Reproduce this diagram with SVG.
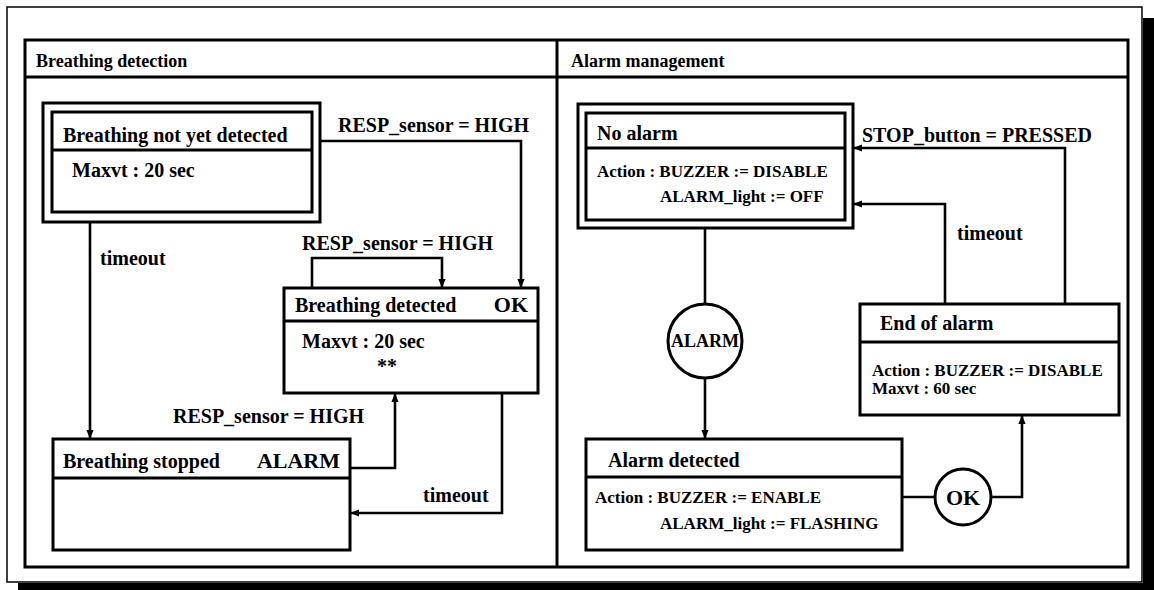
<svg xmlns="http://www.w3.org/2000/svg" width="1154" height="590" viewBox="0 0 1154 590">
<style>
  text { font-family: "Liberation Serif", "Times New Roman", serif; font-weight: bold; fill: #000; }
  .hdr { font-size: 18px; }
  .ttl { font-size: 20px; }
  .big { font-size: 22px; }
  .act { font-size: 17px; }
  .circ { font-size: 18px; }
  .box { fill: #fff; stroke: #000; stroke-width: 3; }
  .ln { fill: none; stroke: #000; stroke-width: 3; }
  .conn { fill: none; stroke: #000; stroke-width: 2.6; }
</style>
<defs>
  <marker id="arr" viewBox="0 0 10 10" refX="10" refY="5" markerWidth="9" markerHeight="9" markerUnits="userSpaceOnUse" orient="auto">
    <path d="M0,1 L10,5 L0,9 z" fill="#000"/>
  </marker>
</defs>
<rect x="0" y="0" width="1154" height="590" fill="#fff"/>

<g id="frame">
  <rect x="1143" y="18" width="11" height="572" fill="#000"/>
  <rect x="18" y="583" width="1136" height="7" fill="#000"/>
  <rect x="7" y="7" width="1135" height="575" fill="#fff" stroke="#000" stroke-width="1.5"/>
  <rect x="25" y="40" width="1103" height="527" class="ln"/>
  <line x1="25" y1="77" x2="1128" y2="77" class="ln"/>
  <line x1="557" y1="40" x2="557" y2="567" class="ln" stroke-width="4"/>
  <text class="hdr" x="36" y="67">Breathing detection</text>
  <text class="hdr" x="571" y="67">Alarm management</text>
</g>

<g id="connectors">
  <path class="conn" d="M320,141 H521 V288" marker-end="url(#arr)"/>
  <path class="conn" d="M312,288 V258 H442 V288" marker-end="url(#arr)"/>
  <path class="conn" d="M90,222 V439" marker-end="url(#arr)"/>
  <path class="conn" d="M350,468 H395 V393" marker-end="url(#arr)"/>
  <path class="conn" d="M502,393 V513 H350" marker-end="url(#arr)"/>
  <path class="conn" d="M705,228 V304"/>
  <path class="conn" d="M705,378 V439" marker-end="url(#arr)"/>
  <path class="conn" d="M902,497 H935"/>
  <path class="conn" d="M991,497 H1022 V415" marker-end="url(#arr)"/>
  <path class="conn" d="M1065,304 V148 H853" marker-end="url(#arr)"/>
  <path class="conn" d="M945,304 V204 H853" marker-end="url(#arr)"/>
  <text class="ttl" x="338" y="132">RESP_sensor = HIGH</text>
  <text class="ttl" x="302" y="250">RESP_sensor = HIGH</text>
  <text class="ttl" x="100" y="265">timeout</text>
  <text class="ttl" x="173" y="423">RESP_sensor = HIGH</text>
  <text class="ttl" x="423" y="502">timeout</text>
  <text class="ttl" x="862" y="142">STOP_button = PRESSED</text>
  <text class="ttl" x="957" y="240">timeout</text>
</g>

<g id="node-not-yet-detected">
  <rect x="43" y="103" width="277" height="119" class="box"/>
  <rect x="52" y="112" width="260" height="100" class="box"/>
  <line x1="52" y1="150" x2="312" y2="150" class="ln"/>
  <text class="ttl" x="63" y="142">Breathing not yet detected</text>
  <text class="ttl" x="72" y="177">Maxvt : 20 sec</text>
</g>

<g id="node-breathing-detected">
  <rect x="284" y="288" width="254" height="105" class="box"/>
  <line x1="284" y1="321" x2="538" y2="321" class="ln"/>
  <text class="ttl" x="295" y="312">Breathing detected</text>
  <text class="big" x="528" y="312" text-anchor="end">OK</text>
  <text class="ttl" x="302" y="348">Maxvt : 20 sec</text>
  <text class="ttl" x="377" y="373">**</text>
</g>

<g id="node-breathing-stopped">
  <rect x="53" y="439" width="297" height="111" class="box"/>
  <line x1="53" y1="478" x2="350" y2="478" class="ln"/>
  <text class="ttl" x="63" y="468">Breathing stopped</text>
  <text class="big" x="340" y="468" text-anchor="end">ALARM</text>
</g>

<g id="node-no-alarm">
  <rect x="578" y="104" width="275" height="124" class="box"/>
  <rect x="586" y="113" width="259" height="107" class="box"/>
  <line x1="586" y1="148" x2="845" y2="148" class="ln"/>
  <text class="ttl" x="597" y="140">No alarm</text>
  <text class="act" x="597" y="177">Action : BUZZER := DISABLE</text>
  <text class="act" x="660" y="202">ALARM_light := OFF</text>
</g>

<g id="node-alarm-event">
  <circle cx="705" cy="341" r="37" class="box"/>
  <text class="circ" x="705" y="347" text-anchor="middle">ALARM</text>
</g>

<g id="node-alarm-detected">
  <rect x="586" y="439" width="316" height="111" class="box"/>
  <line x1="586" y1="477" x2="902" y2="477" class="ln"/>
  <text class="ttl" x="608" y="467">Alarm detected</text>
  <text class="act" x="595" y="503">Action : BUZZER := ENABLE</text>
  <text class="act" x="660" y="529">ALARM_light := FLASHING</text>
</g>

<g id="node-ok-event">
  <circle cx="963" cy="497" r="28" class="box"/>
  <text class="big" x="963" y="505" text-anchor="middle">OK</text>
</g>

<g id="node-end-of-alarm">
  <rect x="860" y="304" width="259" height="111" class="box"/>
  <line x1="860" y1="342" x2="1119" y2="342" class="ln"/>
  <text class="ttl" x="880" y="330">End of alarm</text>
  <text class="act" x="872" y="376">Action : BUZZER := DISABLE</text>
  <text class="act" x="872" y="394">Maxvt : 60 sec</text>
</g>
</svg>
